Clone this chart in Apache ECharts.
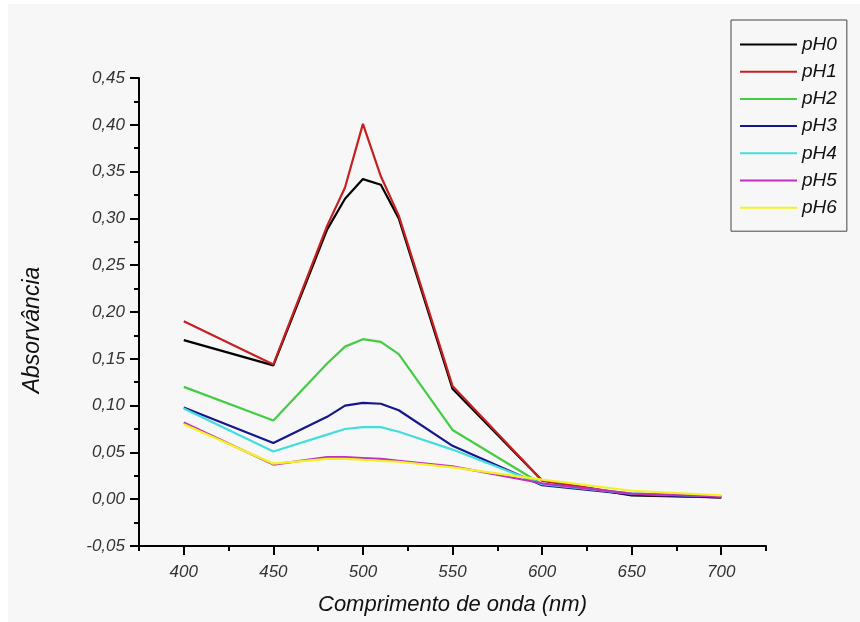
<!DOCTYPE html>
<html>
<head>
    <meta charset="utf-8" />
    <title>Absorvância x comprimento de onda</title>
    <style>
        body { margin: 0; background: #fff; }
        #container { width: 860px; height: 622px; }
    </style>
</head>
<body>
<div id="container"></div>
<script src="https://cdn.jsdelivr.net/npm/echarts@6/dist/echarts.min.js"></script>
<script type="text/javascript">

    // comprimento de onda (nm)
    var wavelengths = [400, 450, 480, 490, 500, 510, 520, 550, 600, 650, 700];

    // absorvância por pH
    var pH0 = [0.170, 0.143, 0.288, 0.321, 0.342, 0.336, 0.300, 0.118, 0.020, 0.004, 0.002];
    var pH1 = [0.190, 0.144, 0.292, 0.333, 0.401, 0.345, 0.303, 0.121, 0.020, 0.005, 0.002];
    var pH2 = [0.120, 0.084, 0.145, 0.163, 0.171, 0.168, 0.155, 0.074, 0.016, 0.006, 0.003];
    var pH3 = [0.098, 0.060, 0.088, 0.100, 0.103, 0.102, 0.095, 0.057, 0.015, 0.005, 0.002];
    var pH4 = [0.097, 0.051, 0.069, 0.075, 0.077, 0.077, 0.072, 0.053, 0.016, 0.006, 0.003];
    var pH5 = [0.082, 0.037, 0.045, 0.045, 0.044, 0.043, 0.041, 0.035, 0.017, 0.006, 0.003];
    var pH6 = [0.080, 0.038, 0.043, 0.043, 0.042, 0.041, 0.040, 0.034, 0.021, 0.009, 0.004];

    var names = ['pH0', 'pH1', 'pH2', 'pH3', 'pH4', 'pH5', 'pH6'];
    var values = [pH0, pH1, pH2, pH3, pH4, pH5, pH6];
    var colors = ['#000000', '#c62020', '#44cc44', '#16168c', '#44dddd', '#c030c0', '#f2f222'];

    var majorTicks = [400, 450, 500, 550, 600, 650, 700];
    var minorTicks = [375, 425, 475, 525, 575, 625, 675, 725];

    var font = 'Liberation Sans';

    var series = [];
    for (var i = 0; i < names.length; i++) {
        var pts = [];
        for (var j = 0; j < wavelengths.length; j++) {
            pts.push([wavelengths[j], values[i][j]]);
        }
        series.push({
            name: names[i],
            type: 'line',
            xAxisIndex: 0,
            data: pts,
            symbol: 'none',
            itemStyle: { color: colors[i] },
            lineStyle: { color: colors[i], width: 2.2 },
            animation: false
        });
    }

    var chart = echarts.init(document.getElementById('container'));

    chart.setOption({
        backgroundColor: '#f7f7f7',
        animation: false,
        graphic: [
            { type: 'rect', shape: { x: 0, y: 0, width: 8, height: 622 }, style: { fill: '#fff' } },
            { type: 'rect', shape: { x: 0, y: 0, width: 860, height: 4 }, style: { fill: '#fff' } }
        ],
        grid: {
            left: 139,
            right: 94,
            top: 78,
            bottom: 76
        },
        legend: {
            orient: 'vertical',
            left: 731,
            top: 20,
            padding: [15, 10, 14, 9],
            icon: 'path://M0,0 L57,0 L57,2 L0,2 Z',
            itemWidth: 57,
            itemHeight: 18,
            itemGap: 8.2,
            borderColor: '#444',
            borderWidth: 1,
            borderRadius: 0,
            textStyle: {
                fontFamily: font,
                fontStyle: 'italic',
                fontSize: 19,
                lineHeight: 18,
                color: '#111'
            },
            data: names
        },
        xAxis: [{
            type: 'value',
            min: 375,
            max: 725,
            interval: 25,
            name: 'Comprimento de onda (nm)',
            nameLocation: 'middle',
            nameGap: 48,
            nameTextStyle: { fontFamily: font, fontStyle: 'italic', fontSize: 22, color: '#111' },
            axisLine: { show: true, onZero: false, lineStyle: { color: '#000', width: 2 } },
            axisTick: { show: true, inside: false, length: 9, customValues: majorTicks, lineStyle: { color: '#000', width: 2 } },
            axisLabel: {
                customValues: majorTicks,
                margin: 18,
                fontFamily: font,
                fontStyle: 'italic',
                fontSize: 17,
                color: '#333'
            },
            splitLine: { show: false }
        }, {
            type: 'value',
            min: 375,
            max: 725,
            interval: 25,
            position: 'bottom',
            axisLine: { show: false, onZero: false },
            axisTick: { show: true, inside: false, length: 5, customValues: minorTicks, lineStyle: { color: '#000', width: 2 } },
            axisLabel: { show: false },
            splitLine: { show: false }
        }],
        yAxis: {
            type: 'value',
            min: -0.05,
            max: 0.45,
            interval: 0.05,
            name: 'Absorvância',
            nameLocation: 'middle',
            nameGap: 95,
            nameTextStyle: { fontFamily: font, fontStyle: 'italic', fontSize: 23, color: '#111', padding: [0, 36, 0, 0] },
            axisLine: { show: true, lineStyle: { color: '#000', width: 2 } },
            axisTick: { show: true, inside: false, length: 9, lineStyle: { color: '#000', width: 2 } },
            minorTick: { show: true, splitNumber: 2, length: 5, lineStyle: { color: '#000', width: 2 } },
            axisLabel: {
                margin: 14,
                fontFamily: font,
                fontStyle: 'italic',
                fontSize: 17,
                color: '#333',
                formatter: function (v) {
                    return v.toFixed(2).replace('.', ',');
                }
            },
            splitLine: { show: false }
        },
        series: series
    });

</script>
</body>
</html>
